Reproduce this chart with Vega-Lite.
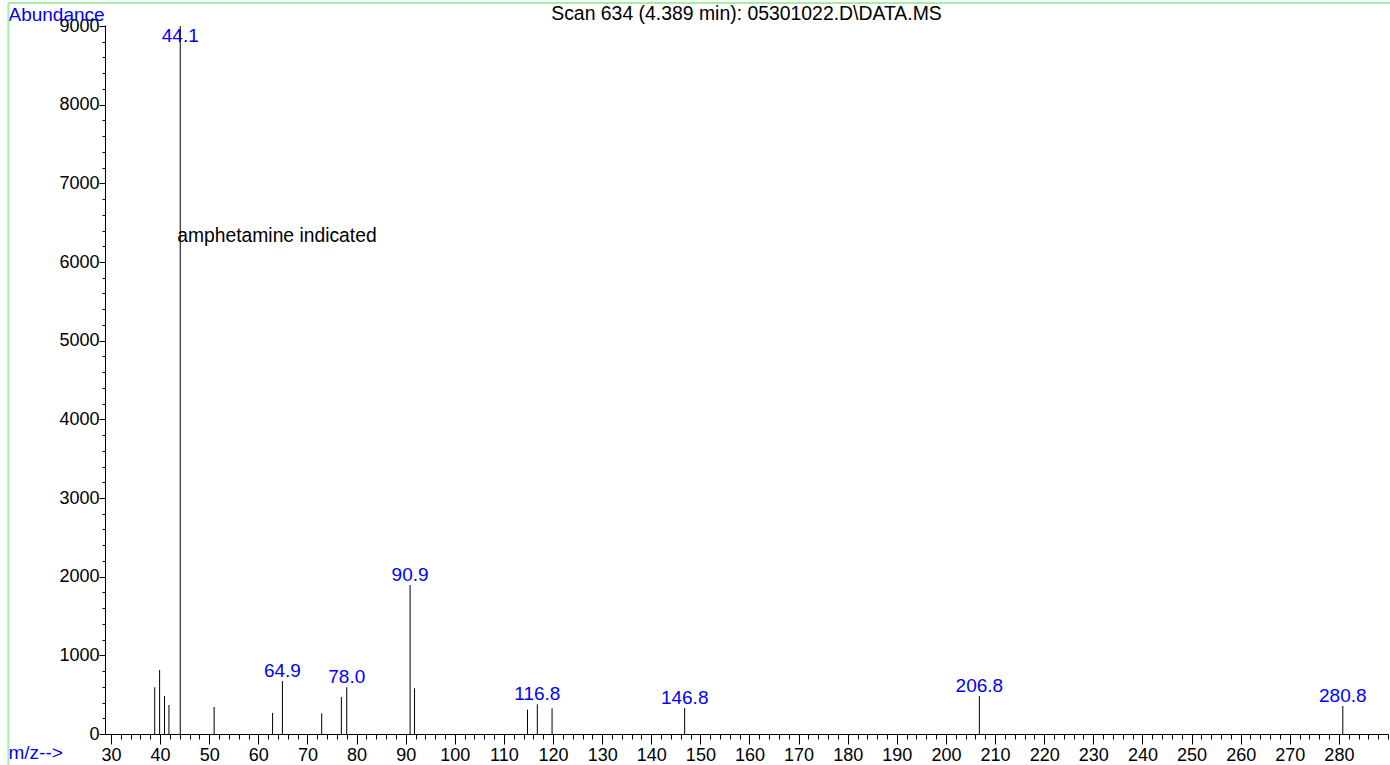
{
  "$schema": "https://vega.github.io/schema/vega-lite/v6.json",
  "width": 1283,
  "height": 709,
  "autosize": {"type": "none"},
  "padding": {"left": 105, "top": 25, "right": 2, "bottom": 31},
  "background": "white",
  "title": {"text": "Scan 634 (4.389 min): 05301022.D\\DATA.MS", "font": "Liberation Sans", "fontSize": 19.4, "fontWeight": "normal", "color": "black", "baseline": "alphabetic", "offset": 4, "dy": 41, "anchor": "middle", "frame": "group"},
  "config": {"view": {"stroke": null}, "font": "Liberation Sans"},
  "resolve": {"axis": {"x": "independent", "y": "independent"}},
  "datasets": {
    "peaks": [
      {"mz": 38.9, "abundance": 594, "label": ""},
      {"mz": 39.9, "abundance": 813, "label": ""},
      {"mz": 40.9, "abundance": 483, "label": ""},
      {"mz": 41.8, "abundance": 369, "label": ""},
      {"mz": 44.1, "abundance": 9000, "label": "44.1"},
      {"mz": 51.0, "abundance": 343, "label": ""},
      {"mz": 62.9, "abundance": 267, "label": ""},
      {"mz": 64.9, "abundance": 674, "label": "64.9"},
      {"mz": 72.9, "abundance": 263, "label": ""},
      {"mz": 76.9, "abundance": 470, "label": ""},
      {"mz": 78.0, "abundance": 594, "label": "78.0"},
      {"mz": 90.9, "abundance": 1894, "label": "90.9"},
      {"mz": 91.8, "abundance": 581, "label": ""},
      {"mz": 114.8, "abundance": 309, "label": ""},
      {"mz": 116.8, "abundance": 377, "label": "116.8"},
      {"mz": 119.8, "abundance": 326, "label": ""},
      {"mz": 146.8, "abundance": 330, "label": "146.8"},
      {"mz": 206.8, "abundance": 483, "label": "206.8"},
      {"mz": 280.8, "abundance": 356, "label": "280.8"}
    ],
    "notes": [{"mz": 44.1, "abundance": 6330, "text": "amphetamine indicated"}]
  },
  "layer": [
    {
      "data": {"name": "peaks"},
      "mark": {"type": "rule", "color": "black", "strokeWidth": 1},
      "encoding": {
        "x": {
          "field": "mz", "type": "quantitative",
          "scale": {"domain": [28.78, 290], "nice": false, "zero": false},
          "axis": {
            "values": [30,32,34,36,38,40,42,44,46,48,50,52,54,56,58,60,62,64,66,68,70,72,74,76,78,80,82,84,86,88,90,92,94,96,98,100,102,104,106,108,110,112,114,116,118,120,122,124,126,128,130,132,134,136,138,140,142,144,146,148,150,152,154,156,158,160,162,164,166,168,170,172,174,176,178,180,182,184,186,188,190,192,194,196,198,200,202,204,206,208,210,212,214,216,218,220,222,224,226,228,230,232,234,236,238,240,242,244,246,248,250,252,254,256,258,260,262,264,266,268,270,272,274,276,278,280,282,284,286,288,290],
            "format": "d",
            "labelExpr": "datum.value % 10 === 0 && datum.value < 290 ? datum.label : ''",
            "tickSize": {"condition": {"test": "datum.value % 10 === 0 && datum.value < 290", "value": 10}, "value": 5},
            "labelOverlap": false,
            "labelFlush": false,
            "labelPadding": 2,
            "labelFont": "Liberation Sans",
            "labelFontSize": 18,
            "labelColor": "black",
            "domainColor": "black",
            "tickColor": "black",
            "grid": false,
            "title": "m/z-->",
            "titleFont": "Liberation Sans",
            "titleFontSize": 19,
            "titleFontWeight": "normal",
            "titleColor": "blue",
            "titleAlign": "left",
            "titleBaseline": "middle",
            "titleX": -97,
            "titleY": 18
          }
        },
        "y": {
          "field": "abundance", "type": "quantitative",
          "scale": {"domain": [0, 9013], "nice": false, "zero": true},
          "axis": {
            "values": [0,200,400,600,800,1000,1200,1400,1600,1800,2000,2200,2400,2600,2800,3000,3200,3400,3600,3800,4000,4200,4400,4600,4800,5000,5200,5400,5600,5800,6000,6200,6400,6600,6800,7000,7200,7400,7600,7800,8000,8200,8400,8600,8800,9000],
            "format": "d",
            "labelExpr": "datum.value % 1000 === 0 ? datum.label : ''",
            "tickSize": {"condition": {"test": "datum.value % 1000 === 0", "value": 6}, "value": 3},
            "labelOverlap": false,
            "labelFlush": false,
            "labelPadding": 0,
            "labelFont": "Liberation Sans",
            "labelFontSize": 18,
            "labelColor": "black",
            "domainColor": "black",
            "tickColor": "black",
            "grid": false,
            "title": "Abundance",
            "titleFont": "Liberation Sans",
            "titleFontSize": 19,
            "titleFontWeight": "normal",
            "titleColor": "blue",
            "titleAngle": 0,
            "titleAlign": "left",
            "titleBaseline": "middle",
            "titleX": -97,
            "titleY": -11
          }
        },
        "y2": {"datum": 0}
      }
    },
    {
      "data": {"name": "peaks"},
      "transform": [{"filter": "datum.label != '' && datum.abundance < 8500"}],
      "mark": {"type": "text", "color": "blue", "font": "Liberation Sans", "fontSize": 19, "baseline": "alphabetic", "align": "center", "dy": -4},
      "encoding": {
        "x": {"field": "mz", "type": "quantitative", "axis": null},
        "y": {"field": "abundance", "type": "quantitative", "axis": null},
        "text": {"field": "label"}
      }
    },
    {
      "data": {"name": "peaks"},
      "transform": [{"filter": "datum.label != '' && datum.abundance >= 8500"}],
      "mark": {"type": "text", "color": "blue", "font": "Liberation Sans", "fontSize": 19, "baseline": "top", "align": "center", "dy": 1},
      "encoding": {
        "x": {"field": "mz", "type": "quantitative", "axis": null},
        "y": {"field": "abundance", "type": "quantitative", "axis": null},
        "text": {"field": "label"}
      }
    },
    {
      "data": {"name": "notes"},
      "mark": {"type": "text", "color": "black", "font": "Liberation Sans", "fontSize": 19.3, "baseline": "middle", "align": "left", "dx": -3},
      "encoding": {
        "x": {"field": "mz", "type": "quantitative", "axis": null},
        "y": {"field": "abundance", "type": "quantitative", "axis": null},
        "text": {"field": "text"}
      }
    },
    {
      "data": {"values": [{}]},
      "mark": {"type": "rule", "color": "#a3f0a3", "strokeWidth": 2},
      "encoding": {
        "x": {"datum": 9.1, "type": "quantitative", "axis": null},
        "y": {"datum": -400, "type": "quantitative", "axis": null},
        "y2": {"datum": 9293}
      }
    },
    {
      "data": {"values": [{}]},
      "mark": {"type": "rule", "color": "#a3f0a3", "strokeWidth": 2},
      "encoding": {
        "x": {"datum": 9.1, "type": "quantitative", "axis": null},
        "x2": {"datum": 296},
        "y": {"datum": 9293, "type": "quantitative", "axis": null}
      }
    }
  ]
}
